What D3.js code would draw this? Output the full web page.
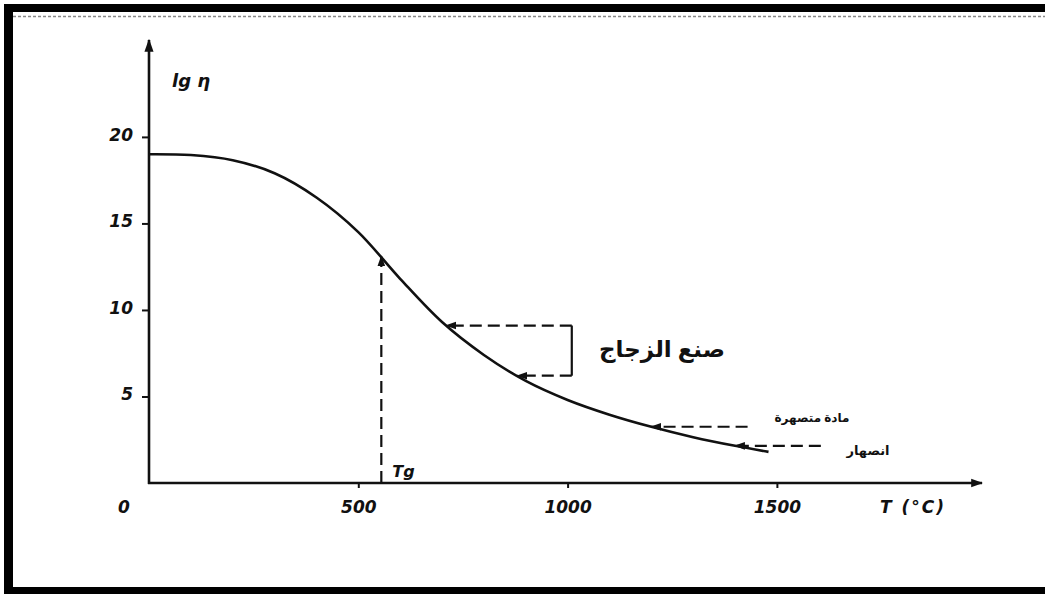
<!DOCTYPE html>
<html>
<head>
<meta charset="utf-8">
<script src="https://cdn.jsdelivr.net/npm/d3@7"></script>
<style>
  html, body { margin: 0; padding: 0; background: #fff; }
  svg { display: block; }
  .tick text, .lbl { font-family: "DejaVu Sans", sans-serif; font-style: italic; font-weight: bold; fill: #111; }
  .ar { font-family: "Noto Sans", "DejaVu Sans", sans-serif; fill: #111; }
</style>
</head>
<body>
<script>
// Viscosity of glass vs temperature
const temps = [0, 100, 200, 300, 400, 500, 600, 700, 800, 900, 1000, 1100, 1200, 1300, 1400, 1480];
const lgEta = [19, 18.95, 18.65, 17.9, 16.5, 14.5, 11.8, 9.3, 7.4, 5.9, 4.8, 3.95, 3.25, 2.65, 2.15, 1.8];
const xTicks = [500, 1000, 1500];
const yTicks = [5, 10, 15, 20];

// Marked points on the curve
const tg = { t: 555, v: 13.1 };
const workRange = { t1: 710, v1: 9.1, t2: 880, v2: 6.2, tEnd: 1010 };
const flowPoint = { t: 1200, v: 3.25, tFrom: 1430, label: "مادة متصهرة" };
const meltPoint = { t: 1400, v: 2.15, tFrom: 1605, label: "انصهار" };
const workLabel = "صنع الزجاج";

const W = 1045, H = 594;
const svg = d3.select("body").append("svg").attr("width", W).attr("height", H);

// Frame
svg.append("rect").attr("x", 4).attr("y", 4).attr("width", W - 4).attr("height", 8).attr("fill", "#000");
svg.append("rect").attr("x", 4).attr("y", 4).attr("width", 9).attr("height", H - 4).attr("fill", "#000");
svg.append("rect").attr("x", 4).attr("y", 587).attr("width", W - 4).attr("height", 7).attr("fill", "#000");
svg.append("line").attr("x1", 13).attr("x2", W).attr("y1", 16.5).attr("y2", 16.5)
  .attr("stroke", "#888").attr("stroke-width", 1.5).attr("stroke-dasharray", "3,2");

const x = d3.scaleLinear().domain([0, 1990]).range([149, 982]);
const y = d3.scaleLinear().domain([0, 25.6]).range([483, 40]);

const defs = svg.append("defs");
defs.append("marker").attr("id", "arr").attr("viewBox", "0 0 10 10")
  .attr("refX", 9).attr("refY", 5).attr("markerWidth", 5).attr("markerHeight", 5)
  .attr("markerUnits", "strokeWidth").attr("orient", "auto")
  .append("path").attr("d", "M0,1.5 L10,5 L0,8.5 Z").attr("fill", "#111");

// Axes
const gx = svg.append("g").attr("transform", `translate(0,${y(0)})`)
  .call(d3.axisBottom(x).tickValues(xTicks).tickFormat(d3.format("d")).tickSize(5).tickPadding(13));
const gy = svg.append("g").attr("transform", `translate(${x(0)},0)`)
  .call(d3.axisLeft(y).tickValues(yTicks).tickFormat(d3.format("d")).tickSize(7).tickPadding(9));
[gx, gy].forEach(g => {
  g.select(".domain").remove();
  g.selectAll(".tick line").attr("stroke", "#111").attr("stroke-width", 2);
  g.selectAll(".tick text").attr("font-size", 17);
});
gy.selectAll(".tick text").attr("dy", "0.2em");

svg.append("line").attr("x1", x(0)).attr("x2", x(0)).attr("y1", y(0) + 1).attr("y2", y(25.6))
  .attr("stroke", "#111").attr("stroke-width", 2.6).attr("marker-end", "url(#arr)");
svg.append("line").attr("x1", x(0) - 1).attr("x2", x(1990)).attr("y1", y(0)).attr("y2", y(0))
  .attr("stroke", "#111").attr("stroke-width", 2.4).attr("marker-end", "url(#arr)");

svg.append("text").attr("class", "lbl").attr("x", x(0) - 31).attr("y", y(0) + 30)
  .attr("font-size", 17).text("0");
svg.append("text").attr("class", "lbl").attr("x", 880).attr("y", y(0) + 30)
  .attr("font-size", 17).attr("letter-spacing", 2).text("T (°C)");
svg.append("text").attr("class", "lbl").attr("x", 172).attr("y", 87)
  .attr("font-size", 18).text("lg η");

// Viscosity curve
const pts = temps.map((t, i) => [t, lgEta[i]]);
svg.append("path").datum(pts)
  .attr("d", d3.line().x(d => x(d[0])).y(d => y(d[1])).curve(d3.curveCatmullRom.alpha(0.5)))
  .attr("fill", "none").attr("stroke", "#111").attr("stroke-width", 2.6);

const dash = { stroke: "#111", "stroke-width": 2.2, "stroke-dasharray": "12,6" };
function dashed(x1, y1, x2, y2, arrow) {
  const l = svg.append("line").attr("x1", x1).attr("y1", y1).attr("x2", x2).attr("y2", y2);
  Object.entries(dash).forEach(([k, v]) => l.attr(k, v));
  if (arrow) l.attr("marker-end", "url(#arr)");
  return l;
}

// Glass transition temperature
dashed(x(tg.t), y(0), x(tg.t), y(tg.v), true);
svg.append("text").attr("class", "lbl").attr("x", x(tg.t) + 11).attr("y", y(0) - 6)
  .attr("font-size", 16).text("Tg");

// Working range bracket
dashed(x(workRange.tEnd), y(workRange.v1), x(workRange.t1), y(workRange.v1), true);
dashed(x(workRange.tEnd), y(workRange.v2), x(workRange.t2), y(workRange.v2), true);
svg.append("line").attr("x1", x(workRange.tEnd)).attr("x2", x(workRange.tEnd))
  .attr("y1", y(workRange.v1)).attr("y2", y(workRange.v2))
  .attr("stroke", "#111").attr("stroke-width", 2.2);
svg.append("text").attr("class", "ar").attr("x", 662).attr("y", 357)
  .attr("text-anchor", "middle").attr("font-size", 23).attr("font-weight", "bold")
  .attr("direction", "rtl").text(workLabel);

// Melt markers
[flowPoint, meltPoint].forEach(p => dashed(x(p.tFrom), y(p.v), x(p.t), y(p.v), true));
svg.append("text").attr("class", "ar").attr("x", 812).attr("y", 422)
  .attr("text-anchor", "middle").attr("font-size", 12).attr("font-weight", "bold")
  .attr("direction", "rtl").text(flowPoint.label);
svg.append("text").attr("class", "ar").attr("x", 868).attr("y", 455)
  .attr("text-anchor", "middle").attr("font-size", 13).attr("font-weight", "bold")
  .attr("direction", "rtl").text(meltPoint.label);
</script>
</body>
</html>
